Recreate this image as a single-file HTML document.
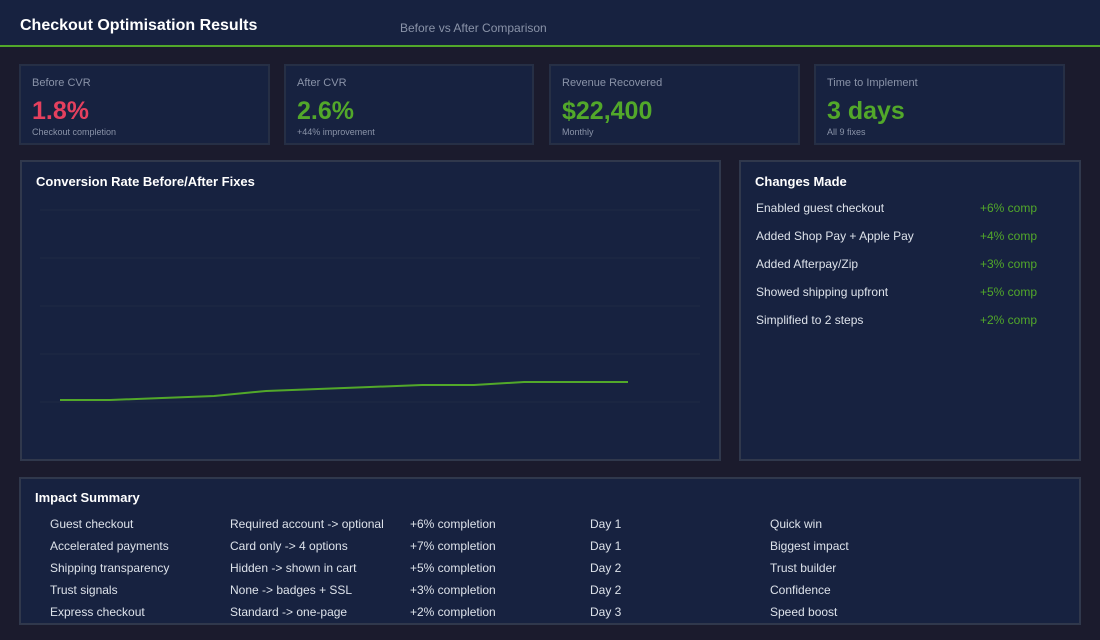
<!DOCTYPE html>
<html><head><style>
*{margin:0;padding:0;box-sizing:border-box}
body{width:1100px;height:640px;background:#1b1b2d;font-family:"Liberation Sans",sans-serif;position:relative;overflow:hidden;color:#fff}
.hdr{position:absolute;left:0;top:0;width:1100px;height:47px;background:#172240;border-bottom:2px solid #52a82a}
.hdr h1{position:absolute;left:20px;top:17px;font-size:16px;font-weight:bold}
.hdr span{position:absolute;left:400px;top:21px;font-size:12px;color:#8a93a8}
.card{position:absolute;top:64px;height:81px;background:#172240;border:2px solid #262f45}
.card .l{position:absolute;left:11px;top:11px;font-size:11px;color:#8a93a8}
.card .v{position:absolute;left:11px;top:31px;font-size:25px;font-weight:bold}
.card .s{position:absolute;left:11px;top:61px;font-size:9px;color:#8a93a8}
.panel{position:absolute;background:#172240;border:2px solid #30384c}
.pt{position:absolute;left:14px;top:12px;font-size:13px;font-weight:bold}
.row{position:absolute;font-size:12px;color:#dde2ea}
.g{color:#52a82a}
</style></head><body>
<div class="hdr"><h1>Checkout Optimisation Results</h1><span>Before vs After Comparison</span></div>
<div class="card" style="left:19px;width:251px"><div class="l">Before CVR</div><div class="v" style="color:#e5405e">1.8%</div><div class="s">Checkout completion</div></div>
<div class="card" style="left:284px;width:250px"><div class="l">After CVR</div><div class="v g">2.6%</div><div class="s">+44% improvement</div></div>
<div class="card" style="left:549px;width:251px"><div class="l">Revenue Recovered</div><div class="v g">$22,400</div><div class="s">Monthly</div></div>
<div class="card" style="left:814px;width:251px"><div class="l">Time to Implement</div><div class="v g">3 days</div><div class="s">All 9 fixes</div></div>
<div class="panel" style="left:20px;top:160px;width:701px;height:301px"><div class="pt">Conversion Rate Before/After Fixes</div>
<svg style="position:absolute;left:-2px;top:-2px" width="701" height="301">
<g stroke="#1f2a45" stroke-width="1"><line x1="20" x2="680" y1="50" y2="50"/><line x1="20" x2="680" y1="98" y2="98"/><line x1="20" x2="680" y1="146" y2="146"/><line x1="20" x2="680" y1="194" y2="194"/><line x1="20" x2="680" y1="242" y2="242"/></g>
<polyline fill="none" stroke="#52a82a" stroke-width="2" points="40,240 90,240 142,238 194,236 246,231 298,229 350,227 402,225 454,225 504,222 556,222 608,222"/>
</svg></div>
<div class="panel" style="left:739px;top:160px;width:342px;height:301px"><div class="pt">Changes Made</div>
<div class="row" style="left:15px;top:39px">Enabled guest checkout</div><div class="row g" style="left:239px;top:39px">+6% comp</div>
<div class="row" style="left:15px;top:67px">Added Shop Pay + Apple Pay</div><div class="row g" style="left:239px;top:67px">+4% comp</div>
<div class="row" style="left:15px;top:95px">Added Afterpay/Zip</div><div class="row g" style="left:239px;top:95px">+3% comp</div>
<div class="row" style="left:15px;top:123px">Showed shipping upfront</div><div class="row g" style="left:239px;top:123px">+5% comp</div>
<div class="row" style="left:15px;top:151px">Simplified to 2 steps</div><div class="row g" style="left:239px;top:151px">+2% comp</div>
</div>
<div class="panel" style="left:19px;top:477px;width:1062px;height:148px"><div class="pt" style="top:11px">Impact Summary</div>
<div class="row" style="left:29px;top:34px;line-height:22px">Guest checkout<br>Accelerated payments<br>Shipping transparency<br>Trust signals<br>Express checkout</div>
<div class="row" style="left:209px;top:34px;line-height:22px">Required account -&gt; optional<br>Card only -&gt; 4 options<br>Hidden -&gt; shown in cart<br>None -&gt; badges + SSL<br>Standard -&gt; one-page</div>
<div class="row" style="left:389px;top:34px;line-height:22px">+6% completion<br>+7% completion<br>+5% completion<br>+3% completion<br>+2% completion</div>
<div class="row" style="left:569px;top:34px;line-height:22px">Day 1<br>Day 1<br>Day 2<br>Day 2<br>Day 3</div>
<div class="row" style="left:749px;top:34px;line-height:22px">Quick win<br>Biggest impact<br>Trust builder<br>Confidence<br>Speed boost</div>
</div>
</body></html>
